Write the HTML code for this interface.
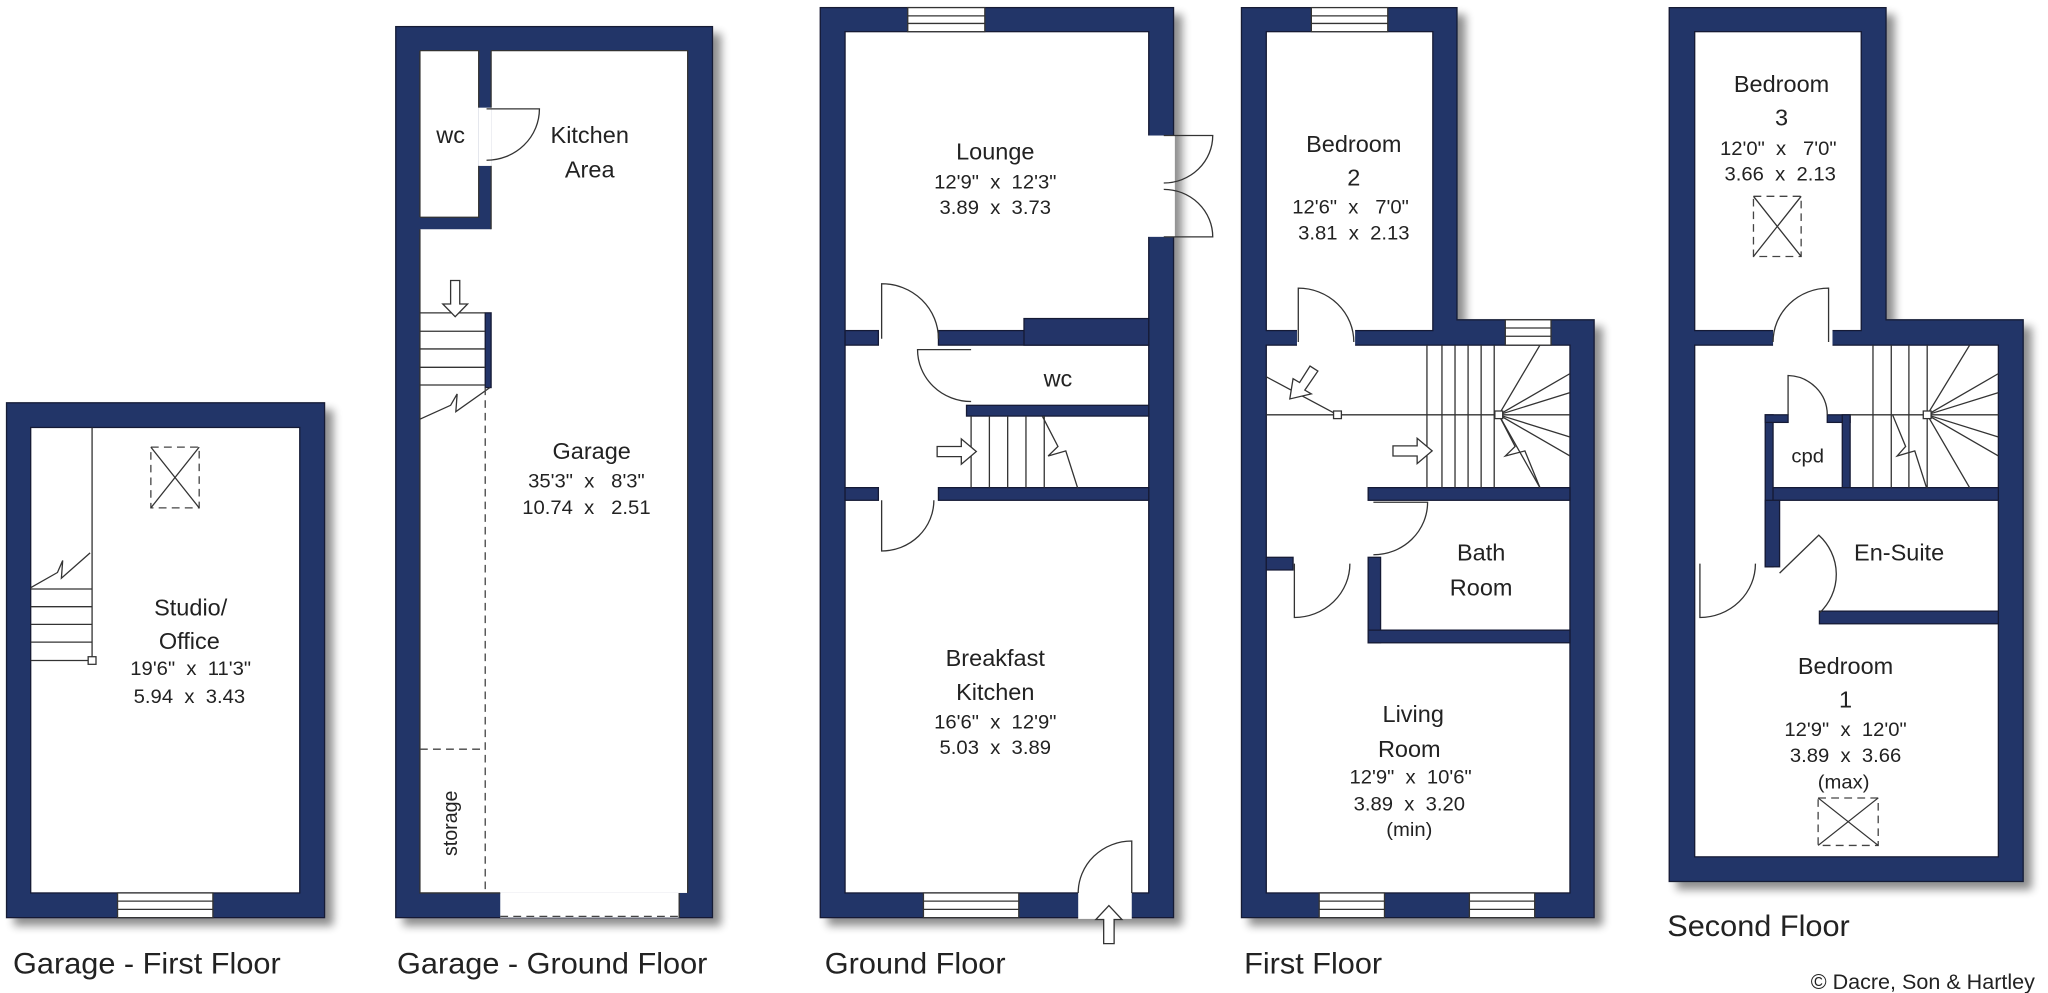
<!DOCTYPE html>
<html><head><meta charset="utf-8"><style>
html,body{margin:0;padding:0;background:#fff;width:2048px;height:993px;overflow:hidden}
svg{display:block}
.w{fill:#233468;stroke:#151a35;stroke-width:2}
.i{fill:#fff;stroke:#151a35;stroke-width:2}
.g{fill:#fff;stroke:none}
.l{fill:none;stroke:#333;stroke-width:2}
.d{fill:none;stroke:#444;stroke-width:2;stroke-dasharray:12 8}
.a{fill:#fff;stroke:#333;stroke-width:2}
text{font-family:"Liberation Sans",sans-serif;fill:#222;text-anchor:middle;white-space:pre}
.n{font-size:36px}
.m{font-size:31px}
.t{font-size:47px;text-anchor:start}
</style></head><body>
<svg width="2048" height="993" viewBox="0 0 3136 1568" preserveAspectRatio="none" xmlns="http://www.w3.org/2000/svg" xml:space="preserve">
<defs><filter id="sh" x="-5%" y="-5%" width="115%" height="115%"><feGaussianBlur in="SourceAlpha" stdDeviation="7"/><feOffset dx="12" dy="12"/><feComponentTransfer><feFuncA type="linear" slope="0.45"/></feComponentTransfer><feMerge><feMergeNode/><feMergeNode in="SourceGraphic"/></feMerge></filter></defs>

<!-- Garage first floor -->
<rect class="w" filter="url(#sh)" x="10" y="636" width="487" height="813"/>
<rect class="i" x="47" y="675" width="412" height="735"/>
<rect class="a" x="180" y="1410" width="146" height="39"/><line class="l" x1="180" y1="1423" x2="326" y2="1423"/><line class="l" x1="180" y1="1436" x2="326" y2="1436"/>
<line class="l" x1="141" y1="675" x2="141" y2="1043"/>
<g class="l"><line x1="47" y1="930" x2="141" y2="930"/><line x1="47" y1="958" x2="141" y2="958"/><line x1="47" y1="986" x2="141" y2="986"/><line x1="47" y1="1014" x2="141" y2="1014"/><line x1="47" y1="1043" x2="141" y2="1043"/></g>
<polyline class="l" points="47,928 88,904 96,885 94,913 138,873"/>
<rect class="a" x="135" y="1037" width="12" height="12"/>
<rect class="d" x="231" y="706" width="74" height="96"/><line class="l" x1="231" y1="706" x2="305" y2="802"/><line class="l" x1="305" y1="706" x2="231" y2="802"/>
<text class="n" x="292" y="972">Studio/</text><text class="n" x="290" y="1025">Office</text>
<text class="m" x="292" y="1066">19'6"  x  11'3"</text><text class="m" x="290" y="1110">5.94  x  3.43</text>

<!-- Garage ground floor -->
<rect class="w" filter="url(#sh)" x="606" y="42" width="485" height="1407"/>
<rect class="g" x="643" y="80" width="90" height="263"/>
<rect class="g" x="733" y="170" width="19" height="92"/>
<rect class="g" x="752" y="80" width="301" height="1330"/>
<rect class="g" x="643" y="362" width="110" height="1048"/>
<rect class="g" x="766" y="1410" width="274" height="39"/>
<path class="l" d="M643,80 H733 V170 M733,262 V343 H643 M752,80 H1053 V1410 M643,80 V343 M643,362 V1410 H766 M752,362 V262 M752,170 V80 M1040,1410 V1449"/>
<line class="d" x1="766" y1="1447" x2="1040" y2="1447"/>
<rect class="w" x="743" y="494" width="9" height="118"/>
<g class="l"><line x1="643" y1="494" x2="743" y2="494"/><line x1="643" y1="523" x2="743" y2="523"/><line x1="643" y1="551" x2="743" y2="551"/><line x1="643" y1="580" x2="743" y2="580"/><line x1="643" y1="608" x2="743" y2="608"/></g>
<polyline class="l" points="643,662 690,640 700,622 698,650 750,612"/>
<polygon class="a" points="690,443 704,443 704,480 716,480 697,500 678,480 690,480"/>
<line class="d" x1="743" y1="612" x2="743" y2="1410"/><line class="d" x1="643" y1="1183" x2="743" y2="1183"/>
<path class="l" d="M745,172 L826,172 A81,81 0 0 1 745,253"/>
<text class="n" x="690" y="226">wc</text><text class="n" x="903" y="226">Kitchen</text><text class="n" x="903" y="280">Area</text>
<text class="n" x="906" y="725">Garage</text><text class="m" x="898" y="770">35'3"  x   8'3"</text><text class="m" x="898" y="812">10.74  x   2.51</text>
<text class="m" transform="translate(700,1300) rotate(-90)">storage</text>

<!-- Ground floor -->
<rect class="w" filter="url(#sh)" x="1256" y="12" width="541" height="1437"/>
<rect class="i" x="1294" y="50" width="465" height="1360"/>
<rect class="w" x="1294" y="522" width="51" height="23"/>
<rect class="w" x="1437" y="522" width="322" height="23"/>
<rect class="w" x="1568" y="503" width="191" height="42"/>
<rect class="w" x="1480" y="640" width="279" height="17"/>
<rect class="w" x="1437" y="770" width="322" height="20"/>
<rect class="w" x="1294" y="770" width="51" height="20"/>
<rect class="g" x="1757" y="214" width="42" height="160"/>
<rect class="a" x="1390" y="12" width="118" height="38"/><line class="l" x1="1390" y1="25" x2="1508" y2="25"/><line class="l" x1="1390" y1="37" x2="1508" y2="37"/>
<rect class="a" x="1414" y="1410" width="146" height="39"/><line class="l" x1="1414" y1="1423" x2="1560" y2="1423"/><line class="l" x1="1414" y1="1436" x2="1560" y2="1436"/>
<rect class="g" x="1651" y="1408" width="82" height="43"/>
<g class="l"><line x1="1487" y1="657" x2="1487" y2="770"/><line x1="1515" y1="657" x2="1515" y2="770"/><line x1="1543" y1="657" x2="1543" y2="770"/><line x1="1571" y1="657" x2="1571" y2="770"/><line x1="1599" y1="657" x2="1599" y2="770"/></g>
<polyline class="l" points="1596,657 1620,705 1605,720 1632,712 1650,770"/>
<polygon class="a" points="1435,705 1472,705 1472,693 1495,713 1472,733 1472,721 1435,721"/>
<path class="l" d="M1350,535 L1350,448 A87,87 0 0 1 1437,535"/>
<path class="l" d="M1487,552 L1405,552 A82,82 0 0 0 1487,634"/>
<path class="l" d="M1350,790 L1350,870 A80,80 0 0 0 1430,790"/>
<path class="l" d="M1782,214 L1857,214 A75,75 0 0 1 1782,289"/>
<path class="l" d="M1782,374 L1857,374 A75,75 0 0 0 1782,299"/>
<path class="l" d="M1733,1410 L1733,1328 A82,82 0 0 0 1651,1410"/>
<polygon class="a" points="1690,1490 1706,1490 1706,1452 1718,1452 1698,1430 1678,1452 1690,1452"/>
<text class="n" x="1524" y="252">Lounge</text><text class="m" x="1524" y="298">12'9"  x  12'3"</text><text class="m" x="1524" y="338">3.89  x  3.73</text>
<text class="n" x="1620" y="610">wc</text>
<text class="n" x="1524" y="1052">Breakfast</text><text class="n" x="1524" y="1105">Kitchen</text><text class="m" x="1524" y="1150">16'6"  x  12'9"</text><text class="m" x="1524" y="1191">5.03  x  3.89</text>

<!-- First floor -->
<polygon class="w" filter="url(#sh)" points="1901,12 2231,12 2231,505 2441,505 2441,1449 1901,1449"/>
<rect class="i" x="1939" y="50" width="255" height="472"/>
<rect class="i" x="1939" y="545" width="465" height="865"/>
<rect class="g" x="1986" y="520" width="89" height="27"/>
<rect class="w" x="2095" y="770" width="309" height="20"/>
<rect class="w" x="1939" y="880" width="41" height="20"/>
<rect class="w" x="2095" y="880" width="19" height="135"/>
<rect class="w" x="2095" y="995" width="309" height="20"/>
<rect class="a" x="2008" y="12" width="117" height="38"/><line class="l" x1="2008" y1="25" x2="2125" y2="25"/><line class="l" x1="2008" y1="37" x2="2125" y2="37"/>
<rect class="a" x="2305" y="505" width="70" height="40"/><line class="l" x1="2305" y1="518" x2="2375" y2="518"/><line class="l" x1="2305" y1="531" x2="2375" y2="531"/>
<rect class="a" x="2020" y="1410" width="100" height="39"/><line class="l" x1="2020" y1="1423" x2="2120" y2="1423"/><line class="l" x1="2020" y1="1436" x2="2120" y2="1436"/>
<rect class="a" x="2250" y="1410" width="100" height="39"/><line class="l" x1="2250" y1="1423" x2="2350" y2="1423"/><line class="l" x1="2250" y1="1436" x2="2350" y2="1436"/>
<g class="l"><line x1="2185" y1="545" x2="2185" y2="770"/><line x1="2208" y1="545" x2="2208" y2="770"/><line x1="2228" y1="545" x2="2228" y2="770"/><line x1="2248" y1="545" x2="2248" y2="770"/><line x1="2268" y1="545" x2="2268" y2="770"/><line x1="2288" y1="545" x2="2288" y2="770"/>
<line x1="1939" y1="655" x2="2404" y2="655"/><line x1="1939" y1="595" x2="2048" y2="655"/>
<line x1="2295" y1="655" x2="2358" y2="545"/><line x1="2295" y1="655" x2="2404" y2="590"/><line x1="2295" y1="655" x2="2404" y2="620"/><line x1="2295" y1="655" x2="2404" y2="690"/><line x1="2295" y1="655" x2="2404" y2="720"/><line x1="2295" y1="655" x2="2358" y2="770"/></g>
<polyline class="l" points="2295,655 2320,705 2305,720 2335,712 2358,770"/>
<rect class="a" x="2289" y="649" width="12" height="12"/><rect class="a" x="2042" y="649" width="12" height="12"/>
<polygon class="a" points="2006,578 2018,586 1998,616 2008,622 1975,630 1980,598 1990,604"/>
<polygon class="a" points="2133,704 2170,704 2170,692 2193,712 2170,732 2170,720 2133,720"/>
<path class="l" d="M1988,540 L1988,455 A85,85 0 0 1 2073,540"/>
<path class="l" d="M1982,890 L1982,975 A85,85 0 0 0 2067,890"/>
<path class="l" d="M2103,793 L2186,793 A83,83 0 0 1 2103,876"/>
<text class="n" x="2073" y="240">Bedroom</text><text class="n" x="2073" y="293">2</text><text class="m" x="2068" y="337">12'6"  x   7'0"</text><text class="m" x="2073" y="378">3.81  x  2.13</text>
<text class="n" x="2268" y="885">Bath</text><text class="n" x="2268" y="940">Room</text>
<text class="n" x="2164" y="1140">Living</text><text class="n" x="2158" y="1195">Room</text><text class="m" x="2160" y="1237">12'9"  x  10'6"</text><text class="m" x="2158" y="1280">3.89  x  3.20</text><text class="m" x="2158" y="1320">(min)</text>

<!-- Second floor -->
<polygon class="w" filter="url(#sh)" points="2556,12 2888,12 2888,505 3098,505 3098,1392 2556,1392"/>
<rect class="i" x="2595" y="50" width="255" height="472"/>
<rect class="i" x="2595" y="545" width="465" height="808"/>
<rect class="g" x="2715" y="520" width="91" height="27"/>
<rect class="w" x="2703" y="655" width="12" height="240"/>
<rect class="w" x="2703" y="655" width="35" height="12"/>
<rect class="w" x="2798" y="655" width="35" height="12"/>
<rect class="w" x="2821" y="655" width="12" height="115"/>
<rect class="w" x="2715" y="770" width="345" height="20"/>
<rect class="w" x="2703" y="790" width="22" height="105"/>
<rect class="w" x="2786" y="965" width="274" height="20"/>
<g class="l"><line x1="2868" y1="545" x2="2868" y2="770"/><line x1="2896" y1="545" x2="2896" y2="770"/><line x1="2923" y1="545" x2="2923" y2="770"/><line x1="2951" y1="545" x2="2951" y2="770"/>
<line x1="2833" y1="655" x2="3060" y2="655"/>
<line x1="2951" y1="655" x2="3016" y2="545"/><line x1="2951" y1="655" x2="3060" y2="590"/><line x1="2951" y1="655" x2="3060" y2="620"/><line x1="2951" y1="655" x2="3060" y2="690"/><line x1="2951" y1="655" x2="3060" y2="720"/><line x1="2951" y1="655" x2="3016" y2="770"/></g>
<polyline class="l" points="2898,655 2918,705 2905,720 2932,712 2950,770"/>
<rect class="a" x="2945" y="649" width="12" height="12"/>
<path class="l" d="M2800,540 L2800,455 A85,85 0 0 0 2715,540"/>
<path class="l" d="M2603,890 L2603,975 A85,85 0 0 0 2688,890"/>
<path class="l" d="M2738,655 L2738,593 A62,62 0 0 1 2798,655"/>
<path class="l" d="M2725,905 L2785,845 A85,85 0 0 1 2786,968"/>
<rect class="d" x="2685" y="310" width="73" height="95"/><line class="l" x1="2685" y1="310" x2="2758" y2="405"/><line class="l" x1="2758" y1="310" x2="2685" y2="405"/>
<rect class="d" x="2784" y="1260" width="92" height="75"/><line class="l" x1="2784" y1="1260" x2="2876" y2="1335"/><line class="l" x1="2876" y1="1260" x2="2784" y2="1335"/>
<text class="n" x="2728" y="145">Bedroom</text><text class="n" x="2728" y="198">3</text><text class="m" x="2723" y="245">12'0"  x   7'0"</text><text class="m" x="2726" y="285">3.66  x  2.13</text>
<text class="m" x="2768" y="730">cpd</text><text class="n" x="2908" y="885">En-Suite</text>
<text class="n" x="2826" y="1064">Bedroom</text><text class="n" x="2826" y="1117">1</text><text class="m" x="2826" y="1162">12'9"  x  12'0"</text><text class="m" x="2826" y="1203">3.89  x  3.66</text><text class="m" x="2823" y="1245">(max)</text>

<!-- Titles -->
<text class="t" x="20" y="1537">Garage - First Floor</text>
<text class="t" x="608" y="1537">Garage - Ground Floor</text>
<text class="t" x="1263" y="1537">Ground Floor</text>
<text class="t" x="1905" y="1537">First Floor</text>
<text class="t" x="2553" y="1478">Second Floor</text>
<text style="font-size:33px;text-anchor:end" x="3116" y="1562">© Dacre, Son &amp; Hartley</text>
</svg>
</body></html>
